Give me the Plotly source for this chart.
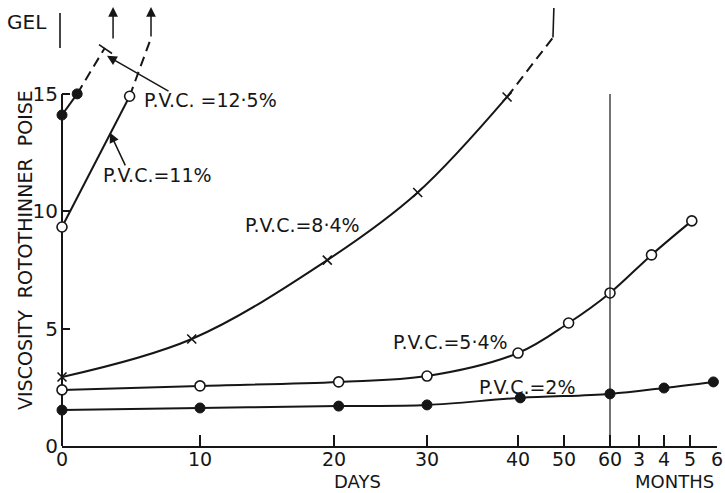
import numpy as np
import plotly.graph_objects as go

# ---- time axis: compressed piecewise-linear scale (days, then months) ----
TICK_DAYS = [0, 10, 20, 30, 40, 50, 60, 90, 120, 150, 180]
TICK_LABELS = ["0", "10", "20", "30", "40", "50", "60", "3", "4", "5", "6"]
TICK_POS = [0, 138, 272, 365, 456, 502, 548, 577, 602, 628, 655]
X_SPAN = 655


def to_axis(days):
    return np.interp(days, TICK_DAYS, TICK_POS)


# ---- viscosity (poise) vs ageing time (days) ----
pvc2_days = [0, 10, 20.5, 30, 40.5, 60, 120, 176]
pvc2_visc = [1.53, 1.62, 1.70, 1.75, 2.05, 2.22, 2.47, 2.73]

pvc54_days = [0, 10, 20.5, 30, 40, 51, 60, 105, 152]
pvc54_visc = [2.39, 2.56, 2.73, 2.98, 3.96, 5.24, 6.52, 8.14, 9.59]

pvc84_days = [0, 9.4, 19.5, 29, 38.8]
pvc84_visc = [2.94, 4.56, 7.92, 10.8, 14.87]
pvc84_ext_days = [38.8, 47.6]
pvc84_ext_visc = [14.87, 17.4]
pvc84_gel_days = [47.6, 47.8]
pvc84_gel_visc = [17.4, 18.66]

pvc11_days = [0, 4.9]
pvc11_visc = [9.33, 14.9]
pvc11_ext_days = [4.9, 6.45]
pvc11_ext_visc = [14.9, 17.38]

pvc125_days = [0, 1.1]
pvc125_visc = [14.1, 15.0]
pvc125_ext_days = [1.1, 3.1]
pvc125_ext_visc = [15.0, 16.96]

# arrows leading on to gelation
gel_arrow_days = [3.7, 6.45]
gel_arrow_from = [17.3, 17.38]
gel_arrow_to = [18.7, 18.7]

Y_TICKS = [0, 5, 10, 15]
Y_TOP = 19.0

INK = "#161616"
FONT = "DejaVu Sans"
FS = 19
LW = 2.0
DASH = "10px,6px"

fig = go.Figure()


def curve(days, visc, dash="solid", shape="linear", marker=None, width=LW):
    kw = dict(
        x=to_axis(days), y=visc, mode="lines",
        line=dict(color=INK, width=width, dash=dash, shape=shape),
        hoverinfo="skip", showlegend=False, cliponaxis=False,
    )
    if marker is not None:
        kw["mode"] = "lines+markers"
        kw["marker"] = marker
    fig.add_trace(go.Scatter(**kw))


filled = dict(symbol="circle", size=10, color=INK, line=dict(color=INK, width=1))
hollow = dict(symbol="circle", size=10, color="white", line=dict(color=INK, width=1.6))
cross = dict(symbol="x-thin", size=9, color=INK, line=dict(color=INK, width=1.6))

# P.V.C. = 2 %
curve(pvc2_days, pvc2_visc, shape="spline", marker=filled)
# P.V.C. = 5.4 %
curve(pvc54_days, pvc54_visc, shape="spline", marker=hollow)
# P.V.C. = 8.4 %
curve(pvc84_days, pvc84_visc, shape="spline", marker=cross)
curve(pvc84_ext_days, pvc84_ext_visc, dash=DASH)
curve(pvc84_gel_days, pvc84_gel_visc, width=1.6)
# P.V.C. = 11 %
curve(pvc11_ext_days, pvc11_ext_visc, dash=DASH)
curve(pvc11_days, pvc11_visc, marker=hollow)
# P.V.C. = 12.5 %
curve(pvc125_ext_days, pvc125_ext_visc, dash=DASH)
curve(pvc125_days, pvc125_visc, marker=filled)


def px_x(pos):
    return pos / X_SPAN


def px_y(val):
    return val / Y_TOP


shapes = [
    # vertical axis, drawn up to the 15 poise tick
    dict(type="line", xref="paper", yref="paper", x0=0, x1=0, y0=0, y1=px_y(15),
         line=dict(color=INK, width=2), layer="below"),
    # two-month divider
    dict(type="line", xref="x", yref="y", x0=to_axis(60), x1=to_axis(60),
         y0=0, y1=15, line=dict(color=INK, width=1.2), layer="above"),
    # GEL marker on the left
    dict(type="line", xref="paper", yref="paper", x0=px_x(-2), x1=px_x(-2),
         y0=px_y(16.96), y1=px_y(18.45), line=dict(color=INK, width=1.6)),
    # end bar of the 12.5 % extrapolation
    dict(type="line", xref="x", yref="y", x0=37, x1=50, y0=17.1, y1=16.72,
         line=dict(color=INK, width=1.6)),
]

annotations = []


def label(text, x, y, angle=0, size=FS):
    annotations.append(dict(
        text=text, x=px_x(x), y=px_y(y), xref="paper", yref="paper", showarrow=False,
        font=dict(family=FONT, size=size, color=INK), textangle=angle,
        xanchor="center", yanchor="middle", borderpad=0))


def arrow(x, y, ax, ay):
    annotations.append(dict(
        text="", x=x, y=y, ax=ax, ay=ay, xref="x", yref="y", axref="x", ayref="y",
        showarrow=True, arrowhead=2, arrowsize=1.3, arrowwidth=1.5, arrowcolor=INK))


label("P.V.C. =12·5%", 148, 14.74)
label("P.V.C.=11%", 95, 11.55)
label("P.V.C.=8·4%", 240, 9.42)
label("P.V.C.=5·4%", 388, 4.43)
label("P.V.C.=2%", 465, 2.51)
label("GEL", -35, 18.07, size=20)
label("DAYS", 295, -1.52, size=18)
label("MONTHS", 612, -1.52, size=18)
label("VISCOSITY\u00a0 ROTOTHINNER\u00a0 POISE", -37, 8.35, angle=-90)

# pointers from the labels to their curves
arrow(45, 16.62, 108, 15.08)
arrow(48, 13.34, 64, 11.89)
# gelation arrows
for d, y0, y1 in zip(gel_arrow_days, gel_arrow_from, gel_arrow_to):
    arrow(float(to_axis(d)), y1, float(to_axis(d)), y0)

fig.update_layout(
    width=725, height=493, autosize=False,
    margin=dict(l=62, r=8, t=0, b=47, pad=0),
    paper_bgcolor="white", plot_bgcolor="white",
    font=dict(family=FONT, size=FS, color=INK),
    shapes=shapes, annotations=annotations,
    xaxis=dict(
        range=[0, X_SPAN], tickmode="array", tickvals=to_axis(TICK_DAYS),
        ticktext=TICK_LABELS, ticks="inside", ticklen=11, tickwidth=1.5,
        tickcolor=INK, showline=True, linewidth=2, linecolor=INK,
        showgrid=False, zeroline=False, tickfont=dict(size=FS),
        ticklabelstandoff=-5,
    ),
    yaxis=dict(
        range=[0, Y_TOP], tickmode="array", tickvals=Y_TICKS,
        ticktext=[str(v) for v in Y_TICKS], ticks="inside", ticklen=8,
        tickwidth=1.5, tickcolor=INK, showline=False, showgrid=False,
        zeroline=False, tickfont=dict(size=20), ticklabelstandoff=3,
    ),
)

fig.write_html("out.html")
